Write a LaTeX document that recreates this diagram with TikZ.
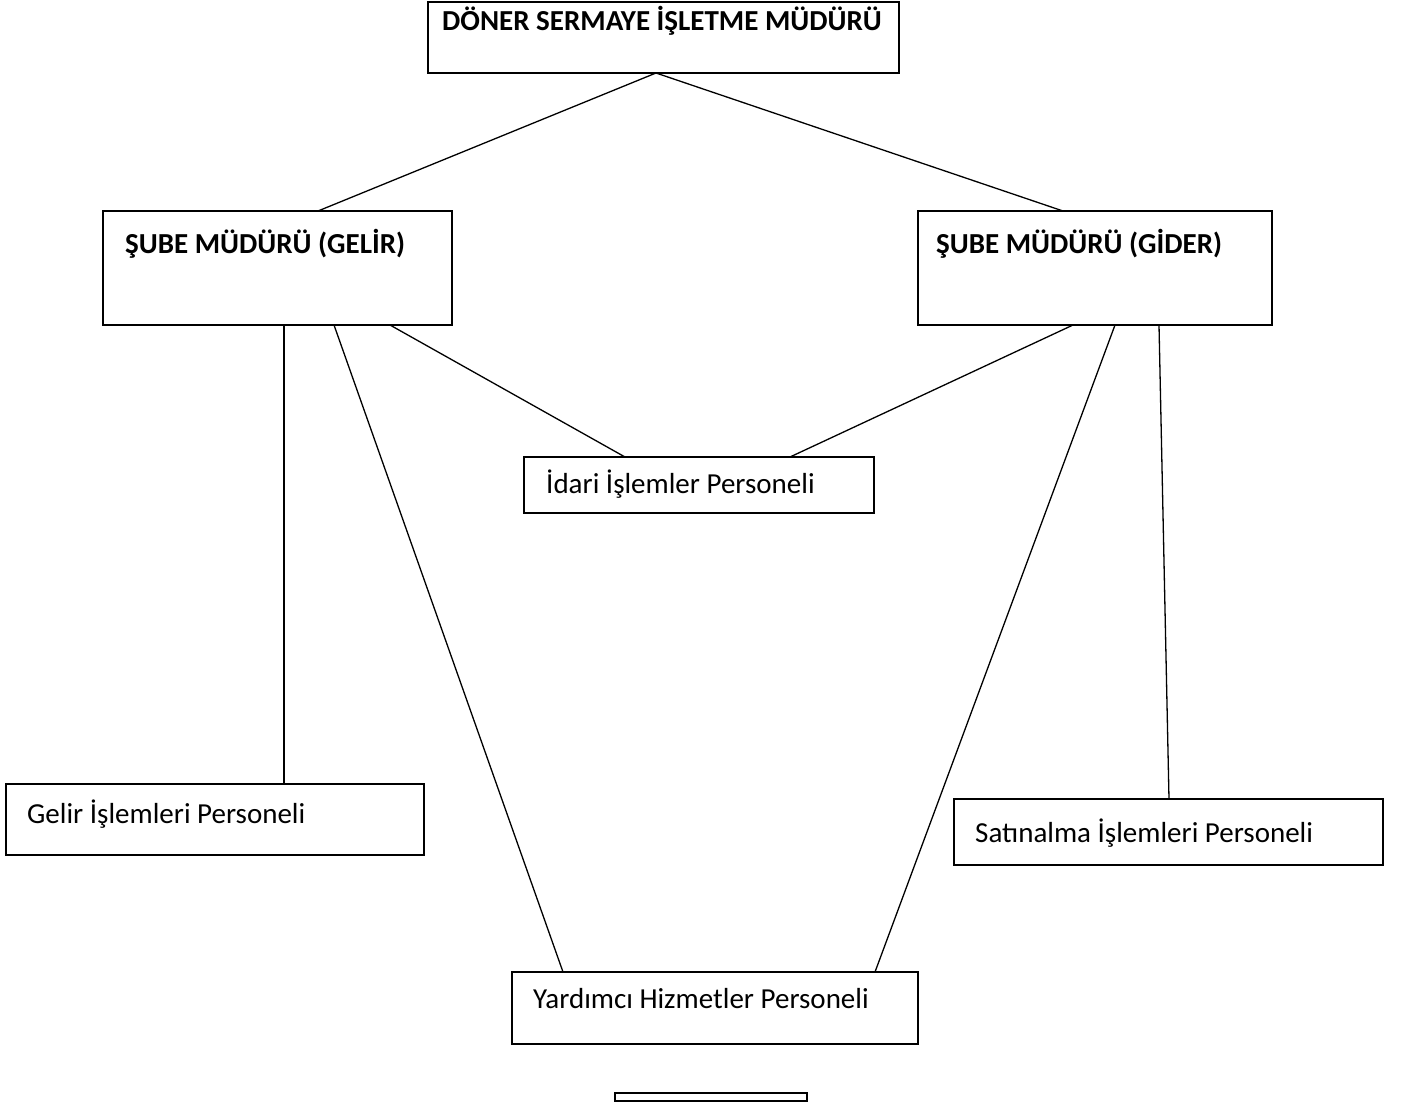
\documentclass[tikz,border=0pt]{standalone}
\usepackage{fontspec}
\setmainfont{Carlito}
\begin{document}
\begin{tikzpicture}[x=1pt,y=-1pt,
  box/.style={draw=black,line width=1.3pt,inner sep=0pt,outer sep=0pt,anchor=north west,fill=white},
  txt/.style={anchor=base west,inner sep=0pt,font=\fontsize{29}{34}\selectfont},
  btxt/.style={txt,font=\fontsize{29}{34}\selectfont\bfseries},
  conn/.style={draw=black,line width=1.3pt}]
\useasboundingbox (0,0) rectangle (1406,1106);
% boxes
\node[box,minimum width=471pt,minimum height=71pt] (top) at (428,2) {};
\node[box,minimum width=349pt,minimum height=114pt] (gelir) at (103,211) {};
\node[box,minimum width=354pt,minimum height=114pt] (gider) at (918,211) {};
\node[box,minimum width=350pt,minimum height=56pt] (idari) at (524,457) {};
\node[box,minimum width=418pt,minimum height=71pt] (gelirp) at (6,784) {};
\node[box,minimum width=429pt,minimum height=66pt] (satin) at (954,799) {};
\node[box,minimum width=406pt,minimum height=72pt] (yard) at (512,972) {};
\node[box,minimum width=192pt,minimum height=8pt] (small) at (615,1093) {};
% texts
\node[btxt] (toptxt) at (442,30) {DÖNER SERMAYE İŞLETME MÜDÜRÜ};
\node[btxt] (gelirtxt) at (125,253) {ŞUBE MÜDÜRÜ (GELİR)};
\node[btxt] (gidertxt) at (936,253) {ŞUBE MÜDÜRÜ (GİDER)};
\node[txt] (idaritxt) at (546,493) {İdari İşlemler Personeli};
\node[txt] (gelirptxt) at (27,823) {Gelir İşlemleri Personeli};
\node[txt] (satintxt) at (975,842) {Satınalma İşlemleri Personeli};
\node[txt] (yardtxt) at (533,1008) {Yardımcı Hizmetler Personeli};
% connectors
\draw[conn] ([xshift=40.5pt]gelir.north) -- ([xshift=-7.5pt]top.south) -- ([xshift=-32pt]gider.north);
\draw[conn] ([xshift=6.5pt]gelir.south) -- ([xshift=69pt]gelirp.north);
\draw[conn] ([xshift=56.5pt]gelir.south) -- ([xshift=-152pt]yard.north);
\draw[conn] ([xshift=112.5pt]gelir.south) -- ([xshift=-74pt]idari.north);
\draw[conn] ([xshift=-22pt]gider.south) -- ([xshift=91pt]idari.north);
\draw[conn] ([xshift=20pt]gider.south) -- ([xshift=160pt]yard.north);
\draw[conn] ([xshift=64pt]gider.south) -- ([xshift=0.5pt]satin.north);
\end{tikzpicture}
\end{document}
